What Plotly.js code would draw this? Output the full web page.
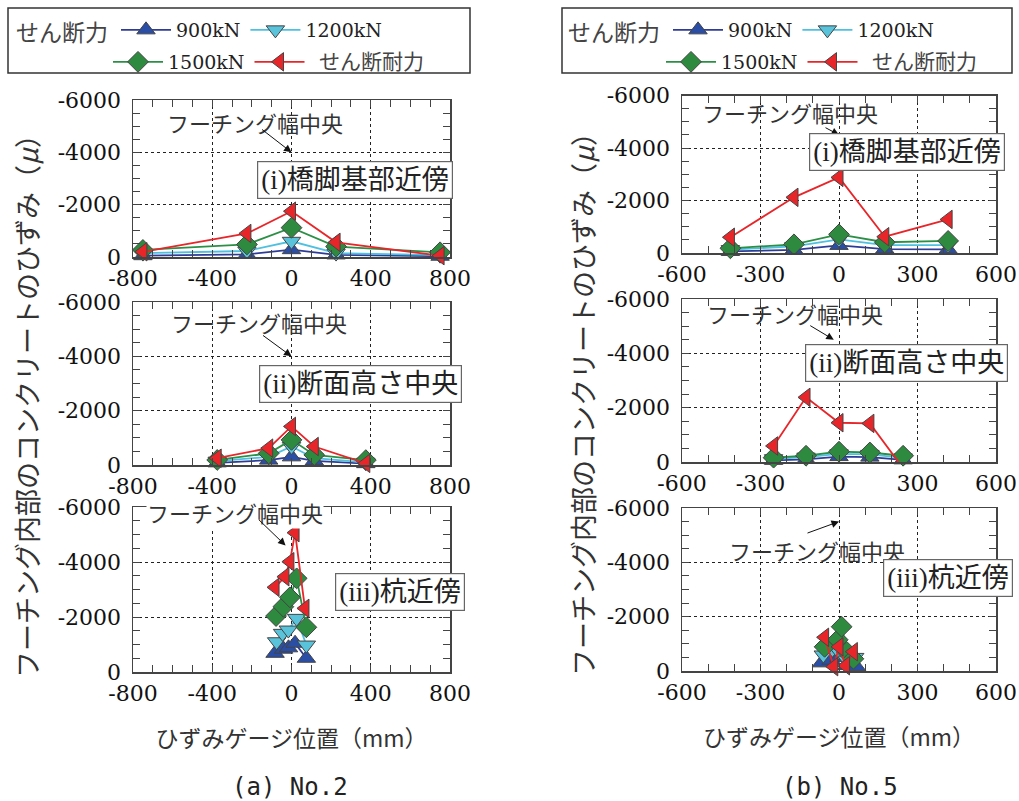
<!DOCTYPE html>
<html><head><meta charset="utf-8">
<script src="https://cdn.plot.ly/plotly-3.0.1.min.js"></script>
<style>html,body{margin:0;padding:0;background:#fff}</style>
</head><body>
<div id="chart" style="width:1019px;height:801px"></div>
<script>
// ---------- data ----------
const seriesNames = ['900kN', '1200kN', '1500kN', 'せん断耐力'];
const legendTitle = 'せん断力';
// (a) No.2
const a1_x = [-750, -225, 0, 225, 750];
const a1_900 = [-50, -100, -280, -80, -30];
const a1_1200 = [-150, -230, -600, -150, -70];
const a1_1500 = [-270, -480, -1120, -400, -180];
const a1_shear = [-200, -900, -1750, -560, -50];

const a2_x = [-375, -115, 0, 115, 375];
const a2_900 = [-80, -180, -300, -150, -50];
const a2_1200 = [-140, -300, -680, -250, -100];
const a2_1500 = [-185, -430, -925, -370, -180];
const a2_shear = [-250, -620, -1420, -680, -60];

const a3_x900 = [-83, -40, -15, 18, 75];
const a3_900 = [-680, -830, -880, -1045, -500];
const a3_x1200 = [-75, -45, -16, 26, 75];
const a3_1200 = [-1100, -1405, -1525, -1950, -980];
const a3_x1500 = [-78, -41, -8, 26, 75];
const a3_1500 = [-2035, -2375, -2715, -3405, -1625];
const a3_xshear = [-83, -33, -8, 18, 68];
const a3_shear = [-3080, -3465, -4010, -5065, -2315];

// (b) No.5
const b1_x = [-415, -172, 0, 175, 417];
const b1_900 = [-60, -120, -290, -150, -140];
const b1_1200 = [-130, -250, -520, -300, -300];
const b1_1500 = [-180, -330, -710, -410, -460];
const b1_shear = [-600, -2120, -2880, -620, -1280];

const b2_x = [-250, -126, 0, 118, 245];
const b2_900 = [-60, -100, -200, -180, -80];
const b2_1200 = [-120, -180, -300, -280, -150];
const b2_1500 = [-160, -230, -380, -350, -230];
const b2_shear = [-590, -2380, -1445, -1420, 230];

const b3_x900 = [-67, -30, 0, 30, 67];
const b3_900 = [-300, -400, -500, -200, -160];
const b3_x1200 = [-60, -25, 0, 30, 60];
const b3_1200 = [-590, -800, -700, -400, -500];
const b3_x1500 = [-55, -5, 10, 30, 55];
const b3_1500 = [-890, -1150, -1630, -700, -450];
const b3_xshear = [-55, -20, 0, 25, 55];
const b3_shear = [-1240, -160, -890, -195, -710];

const xTicksA = [-800, -400, 0, 400, 800];
const xTicksB = [-600, -300, 0, 300, 600];
const yTicks = [0, -2000, -4000, -6000];

const panelLabels = ['(i)橋脚基部近傍', '(ii)断面高さ中央', '(iii)杭近傍'];
const centerLabel = 'フーチング幅中央';
const yTitle = 'フーチング内部のコンクリートのひずみ（<i>μ</i>）';
const xTitle = 'ひずみゲージ位置（mm）';
const captions = ['(a) No.2', '(b) No.5'];

// ---------- styles ----------
const W = 1019, H = 801;
const px = v => v / W, py = v => 1 - v / H;
const dom = (a, b) => [1 - b / H, 1 - a / H];

const styles = [
  {sym: 'triangle-up', mc: '#2a4ea6', lc: '#2e3c96', size: 16},
  {sym: 'triangle-down', mc: '#58c3da', lc: '#4ec0e0', size: 16},
  {sym: 'diamond', mc: '#2d8a3e', lc: '#2b9046', size: 16},
  {sym: 'triangle-left', mc: '#e8262a', lc: '#e8262a', size: 16}
];

const traces = [];
function addPanel(xa, ya, xs, ys, legends) {
  ys.forEach((y, i) => {
    const s = styles[i];
    const t = {
      type: 'scatter', mode: 'lines+markers',
      x: xs[i], y: y, xaxis: xa, yaxis: ya,
      name: i === 3 ? '<span style="font-size:21px;font-family:Noto Sans CJK JP;color:#444">  ' + seriesNames[i] + '</span>' : seriesNames[i],
      line: {color: s.lc, width: 1.8},
      marker: {symbol: s.sym, size: s.size, color: s.mc, line: {color: '#444', width: 1}},
      cliponaxis: false,
      showlegend: !!legends
    };
    if (legends) t.legend = legends[i];
    traces.push(t);
  });
}
addPanel('x', 'y', [a1_x, a1_x, a1_x, a1_x], [a1_900, a1_1200, a1_1500, a1_shear], ['legend', 'legend', 'legend2', 'legend2']);
addPanel('x2', 'y2', [a2_x, a2_x, a2_x, a2_x], [a2_900, a2_1200, a2_1500, a2_shear]);
addPanel('x3', 'y3', [a3_x900, a3_x1200, a3_x1500, a3_xshear], [a3_900, a3_1200, a3_1500, a3_shear]);
addPanel('x4', 'y4', [b1_x, b1_x, b1_x, b1_x], [b1_900, b1_1200, b1_1500, b1_shear], ['legend3', 'legend3', 'legend4', 'legend4']);
addPanel('x5', 'y5', [b2_x, b2_x, b2_x, b2_x], [b2_900, b2_1200, b2_1500, b2_shear]);
addPanel('x6', 'y6', [b3_x900, b3_x1200, b3_x1500, b3_xshear], [b3_900, b3_1200, b3_1500, b3_shear]);

const tickFont = {family: 'DejaVu Serif', size: 22, color: '#111'};
function xAxis(domain, anchor, ticks, minorD) {
  return {
    domain: domain, anchor: anchor, range: [ticks[0], ticks[ticks.length - 1]],
    tickvals: ticks, ticktext: ticks.map(String),
    showline: true, linecolor: '#444', linewidth: 1.5, mirror: 'allticks',
    ticks: 'inside', ticklen: 7, tickcolor: '#444', tickwidth: 1,
    showgrid: true, gridcolor: '#222', griddash: 'dot', gridwidth: 1, zeroline: false,
    tickfont: tickFont, ticklabelstandoff: 1,
    minor: {dtick: minorD, ticks: 'inside', ticklen: 7, tickcolor: '#444', tickwidth: 1, showgrid: false}
  };
}
function yAxis(domain, anchor) {
  return {
    domain: domain, anchor: anchor, range: [0, -6000],
    tickvals: yTicks, ticktext: yTicks.map(String),
    showline: true, linecolor: '#444', linewidth: 1.5, mirror: 'allticks',
    ticks: 'inside', ticklen: 7, tickcolor: '#444', tickwidth: 1,
    showgrid: true, gridcolor: '#222', griddash: 'dot', gridwidth: 1, zeroline: false,
    tickfont: tickFont, ticklabelstandoff: 6,
    minor: {dtick: 500, ticks: 'inside', ticklen: 7, tickcolor: '#444', tickwidth: 1, showgrid: false}
  };
}
const LX = [px(133), px(450)], RX = [px(682), px(996)];
const layout = {
  width: W, height: H, margin: {l: 0, r: 0, t: 0, b: 0},
  paper_bgcolor: '#fff', plot_bgcolor: 'rgba(0,0,0,0)',
  xaxis: xAxis(LX, 'y', xTicksA, 100),
  xaxis2: xAxis(LX, 'y2', xTicksA, 100),
  xaxis3: xAxis(LX, 'y3', xTicksA, 100),
  xaxis4: xAxis(RX, 'y4', xTicksB, 100),
  xaxis5: xAxis(RX, 'y5', xTicksB, 100),
  xaxis6: xAxis(RX, 'y6', xTicksB, 100),
  yaxis: yAxis(dom(100, 257), 'x'),
  yaxis2: yAxis(dom(302, 465), 'x2'),
  yaxis3: yAxis(dom(507, 672), 'x3'),
  yaxis4: yAxis(dom(95.5, 253), 'x4'),
  yaxis5: yAxis(dom(299, 462), 'x5'),
  yaxis6: yAxis(dom(508, 671), 'x6'),
  annotations: [],
  shapes: []
};
const xTitleFont = {family: 'Noto Sans CJK JP', size: 23, color: '#333'};
layout.xaxis3.title = {text: xTitle, font: xTitleFont, standoff: 26};
layout.xaxis6.title = {text: xTitle, font: xTitleFont, standoff: 26};

// legends
const legFont = {family: 'DejaVu Serif, Noto Sans CJK JP', size: 19, color: '#222'};
function leg(xp, yp, withTitle) {
  const l = {orientation: 'h', x: px(xp), y: py(yp), xanchor: 'left', yanchor: 'top',
    bgcolor: 'rgba(0,0,0,0)', borderwidth: 0, font: legFont, itemwidth: 50, tracegroupgap: 0};
  if (withTitle) l.title = {text: legendTitle, side: 'left', font: {family: 'Noto Sans CJK JP', size: 23, color: '#444'}};
  return l;
}
layout.legend = leg(14, 11, true);
layout.legend2 = leg(108, 43, false);
layout.legend3 = leg(566, 11, true);
layout.legend4 = leg(661, 43, false);
layout.shapes.push({type: 'rect', xref: 'paper', yref: 'paper', x0: px(8), x1: px(470), y0: py(73), y1: py(8), line: {color: '#333', width: 1.5}});
layout.shapes.push({type: 'rect', xref: 'paper', yref: 'paper', x0: px(562), x1: px(1012), y0: py(73), y1: py(8), line: {color: '#333', width: 1.5}});

// annotations
const yTitleFont = {family: 'Noto Sans CJK JP', size: 27, color: '#333'};
[[26, 400], [582, 398]].forEach(c => layout.annotations.push({xref: 'paper', yref: 'paper', x: px(c[0]), y: py(c[1]), xanchor: 'center', yanchor: 'middle', textangle: -90, text: yTitle, showarrow: false, font: yTitleFont}));
const cjk = {family: 'Noto Sans CJK JP', size: 22, color: '#333'};
const boxFont = {family: 'Liberation Serif, Noto Sans CJK JP', size: 27, color: '#222'};
const centerTexts = [[255, 122, false], [259, 322, false], [235, 512, true], [790, 112, false], [795, 313, false], [817, 550, false]];
centerTexts.forEach(c => layout.annotations.push({xref: 'paper', yref: 'paper', x: px(c[0]), y: py(c[1]), xanchor: 'center', yanchor: 'middle', text: centerLabel, showarrow: false, font: cjk, bgcolor: c[2] ? '#fff' : 'rgba(0,0,0,0)', borderpad: 0}));
const arrows = [['x', 'y', 0, -4000, -31, -24], ['x2', 'y2', 0, -4000, -30, -22], ['x3', 'y3', -30, -4600, -28, -27],
  ['x4', 'y4', 0, -4500, -15, -8], ['x5', 'y5', -20, -4500, -25, -15], ['x6', 'y6', 0, -5500, -33, 12]];
arrows.forEach(a => layout.annotations.push({xref: a[0], yref: a[1], x: a[2], y: a[3], ax: a[4], ay: a[5], text: ' ', font: {size: 1}, showarrow: true, arrowhead: 2, arrowsize: 1.5, arrowwidth: 1, arrowcolor: '#111'}));
const boxes = [[355, 180, 0], [360, 384, 1], [400, 592, 2], [907, 152, 0], [906, 363, 1], [948, 578, 2]];
boxes.forEach(b => layout.annotations.push({xref: 'paper', yref: 'paper', x: px(b[0]), y: py(b[1]), xanchor: 'center', yanchor: 'middle', text: panelLabels[b[2]], showarrow: false, font: boxFont, bgcolor: '#fff', bordercolor: '#666', borderwidth: 1.2, borderpad: 3}));
[[290, 0], [840, 1]].forEach(c => layout.annotations.push({xref: 'paper', yref: 'paper', x: px(c[0]), y: py(787), xanchor: 'center', yanchor: 'middle', text: captions[c[1]], showarrow: false, font: {family: 'DejaVu Sans Mono', size: 24, color: '#222'}}));

Plotly.newPlot('chart', traces, layout, {displayModeBar: false, staticPlot: true});
</script>
</body></html>
